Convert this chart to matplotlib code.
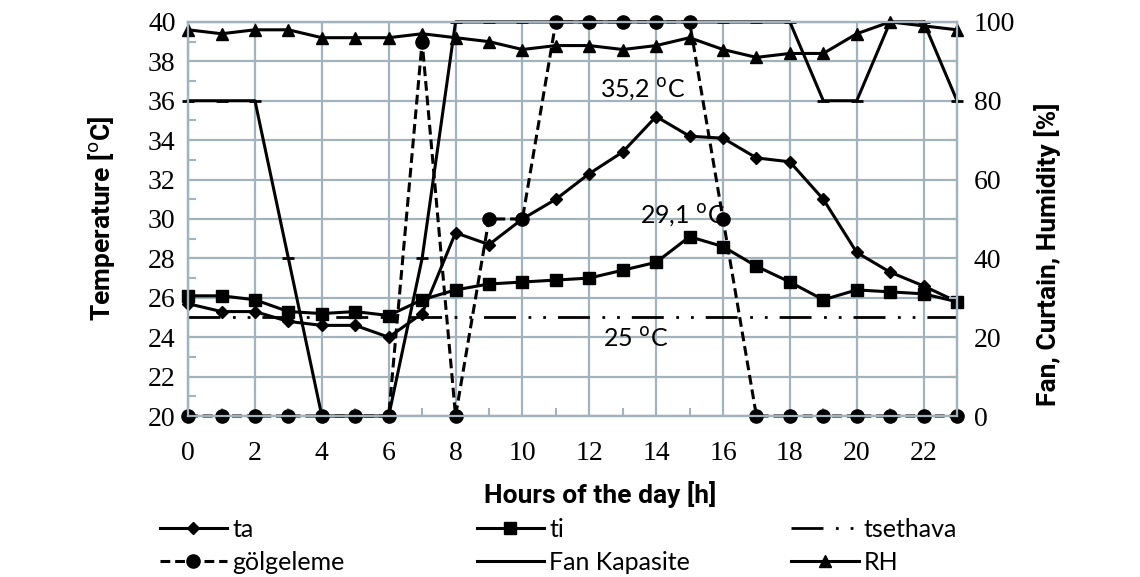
import matplotlib
matplotlib.use('Agg')
import matplotlib.pyplot as plt
from matplotlib.ticker import MultipleLocator

#values
hours = list(range(24))
ta = [25.7, 25.3, 25.3, 24.8, 24.6, 24.6, 24.0, 25.2, 29.3, 28.7, 30.0, 31.0,
      32.3, 33.4, 35.2, 34.2, 34.1, 33.1, 32.9, 31.0, 28.3, 27.3, 26.6, 25.8]
ti = [26.1, 26.1, 25.9, 25.3, 25.2, 25.3, 25.1, 25.9, 26.4, 26.7, 26.8, 26.9,
      27.0, 27.4, 27.8, 29.1, 28.6, 27.6, 26.8, 25.9, 26.4, 26.3, 26.2, 25.8]
tsethava = [25] * 24
golgeleme = [0, 0, 0, 0, 0, 0, 0, 95, 0, 50, 50, 100,
             100, 100, 100, 100, 50, 0, 0, 0, 0, 0, 0, 0]
fan = [80, 80, 80, 40, 0, 0, 0, 40, 100, 100, 100, 100,
       100, 100, 100, 100, 100, 100, 100, 80, 80, 100, 100, 80]
rh = [98, 97, 98, 98, 96, 96, 96, 97, 96, 95, 93, 94,
      94, 93, 94, 96, 93, 91, 92, 92, 97, 100, 99, 98]

sans = ['Lato', 'DejaVu Sans']
bold = ['Roboto', 'DejaVu Sans']
serif = ['Liberation Serif', 'DejaVu Serif']
grid_col = '#a3b3bc'

fig = plt.figure(figsize=(11.4, 5.77), dpi=100)
ax = fig.add_axes([0.165, 0.279, 0.6745, 0.683])
ax2 = ax.twinx()

#left axis: temperatures
l_ta, = ax.plot(hours, ta, color='black', lw=2.2, marker='D', ms=6, clip_on=False)
l_ti, = ax.plot(hours, ti, color='black', lw=2.2, marker='s', ms=8, clip_on=False)
l_set, = ax.plot(hours, tsethava, color='black', lw=2,
                 linestyle=(0, (11.5, 4.5, 1, 4.3, 1, 4.3)))

#right axis: percentages
l_go, = ax2.plot(hours, golgeleme, color='black', lw=2.2, linestyle=(0, (3.2, 1.6)),
                 marker='o', ms=9.5, clip_on=False)
l_fan, = ax2.plot(hours, fan, color='black', lw=2.2, marker='_', ms=9, mew=2, clip_on=False)
l_rh, = ax2.plot(hours, rh, color='black', lw=2.2, marker='^', ms=8.5, clip_on=False)

ax.set_xlim(0, 23)
ax.set_ylim(20, 40)
ax2.set_ylim(0, 100)
ax.set_xticks(range(0, 23, 2))
ax.set_yticks(range(20, 41, 2))
ax2.set_yticks(range(0, 101, 20))
ax.xaxis.set_minor_locator(MultipleLocator(1))
ax.yaxis.set_minor_locator(MultipleLocator(1))
ax2.yaxis.set_minor_locator(MultipleLocator(10))
ax.grid(True, which='major', color=grid_col, lw=1.6)
ax.set_axisbelow(True)

for a in (ax, ax2):
    for s in a.spines.values():
        s.set_color(grid_col)
        s.set_linewidth(1.6)
ax.tick_params(axis='y', which='major', length=0, labelsize=20, pad=9)
ax.tick_params(axis='x', which='major', length=0, labelsize=20, pad=18)
ax2.tick_params(which='major', length=0, labelsize=20, pad=12)
ax.tick_params(which='minor', direction='in', length=6, color=grid_col, width=1.5)
ax2.tick_params(which='minor', direction='in', length=6, color=grid_col, width=1.5)
for lab in ax.get_xticklabels() + ax.get_yticklabels() + ax2.get_yticklabels():
    lab.set_family(serif)

ax.set_ylabel('Temperature [$^{\\mathrm{o}}$C]', family=bold, fontsize=19, fontweight='bold')
ax.yaxis.set_label_coords(-0.093, 0.5)
ax2.set_ylabel('Fan, Curtain, Humidity [%]', family=bold, fontsize=19, fontweight='bold')
ax2.yaxis.set_label_coords(1.1, 0.41)
ax.set_xlabel('Hours of the day [h]', family=bold, fontsize=19, fontweight='bold')
ax.xaxis.set_label_coords(0.536, -0.165)

#annotations
ax.text(13.6, 35.9, '35,2 $^{\\mathrm{o}}$C', family=sans, fontsize=18, ha='center', va='bottom')
ax.text(14.8, 29.5, '29,1 $^{\\mathrm{o}}$C', family=sans, fontsize=18, ha='center', va='bottom')
ax.text(13.4, 23.3, '25 $^{\\mathrm{o}}$C', family=sans, fontsize=18, ha='center', va='bottom')

#legend below the chart, one legend per column
cols = [([l_ta, l_go], ['ta', 'gölgeleme'], 0.140),
        ([l_ti, l_fan], ['ti', 'Fan Kapasite'], 0.418),
        ([l_set, l_rh], ['tsethava', 'RH'], 0.694)]
for handles, labels, xpos in cols:
    leg = fig.legend(handles, labels, loc='upper left', bbox_to_anchor=(xpos, 0.103),
                     frameon=False, prop={'family': sans, 'size': 18},
                     handlelength=2.7, handletextpad=0.2, labelspacing=0.4,
                     borderpad=0, borderaxespad=0)

fig.savefig('out.png', dpi=100)
